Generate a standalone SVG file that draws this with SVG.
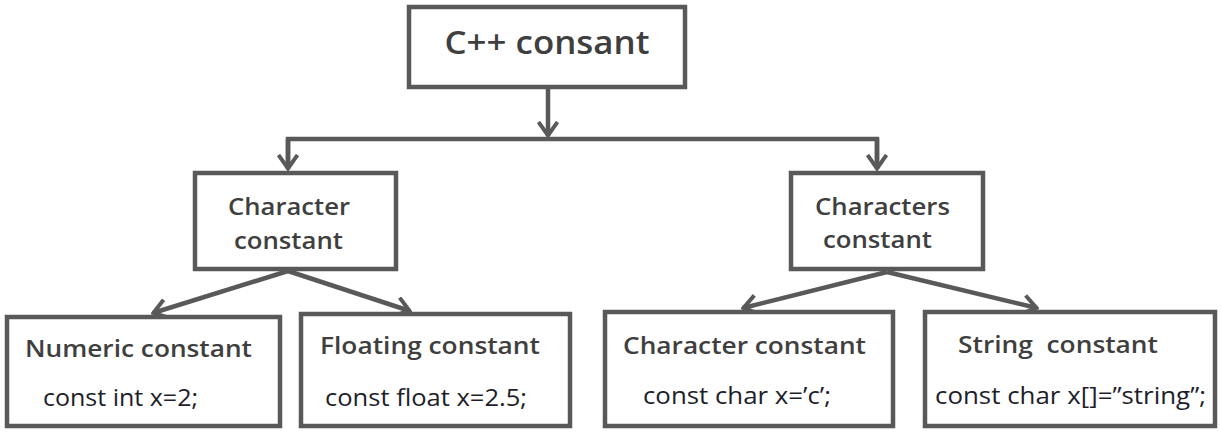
<svg xmlns="http://www.w3.org/2000/svg" width="1221" height="432" viewBox="0 0 1221 432">
<defs>
<marker id="arr" viewBox="0 0 17 22" refX="15" refY="11" markerWidth="17" markerHeight="22" markerUnits="userSpaceOnUse" orient="auto">
<path d="M1,1.5 L14.5,11 L1,20.5" fill="none" stroke="#595959" stroke-width="4" stroke-linejoin="miter"/>
</marker>
<style>
.box{fill:#ffffff;stroke:#595959;stroke-width:4.5}
.ln{fill:none;stroke:#595959;stroke-width:4.5}
.t{font-family:"Open Sans","Noto Sans",sans-serif;fill:#3f3f3f;font-weight:600}
.c{font-family:"Open Sans","Noto Sans",sans-serif;fill:#1e1e2a;font-weight:400}
</style>
</defs>
<rect width="1221" height="432" fill="#ffffff"/>
<g id="connectors">
<line class="ln" x1="548" y1="89" x2="548" y2="136" marker-end="url(#arr)"/>
<polyline class="ln" points="288,166 288,139 877,139 877,166"/>
<line class="ln" x1="288" y1="139" x2="288" y2="169" marker-end="url(#arr)"/>
<line class="ln" x1="877" y1="139" x2="877" y2="169" marker-end="url(#arr)"/>
<line class="ln" x1="288" y1="271" x2="153" y2="313" marker-end="url(#arr)"/>
<line class="ln" x1="288" y1="271" x2="410" y2="311" marker-end="url(#arr)"/>
<line class="ln" x1="887" y1="272" x2="743" y2="308" marker-end="url(#arr)"/>
<line class="ln" x1="887" y1="272" x2="1037" y2="308" marker-end="url(#arr)"/>
</g>
<g id="root">
<rect class="box" x="409" y="7" width="276" height="80"/>
<text class="t" x="547" y="54" font-size="32" text-anchor="middle" textLength="205" lengthAdjust="spacingAndGlyphs">C++ consant</text>
</g>
<g id="character-group">
<rect class="box" x="195" y="173" width="201" height="96"/>
<text class="t" x="289" y="215" font-size="24" text-anchor="middle" textLength="122" lengthAdjust="spacingAndGlyphs">Character</text>
<text class="t" x="288.5" y="249" font-size="24" text-anchor="middle" textLength="109" lengthAdjust="spacingAndGlyphs">constant</text>
</g>
<g id="characters-group">
<rect class="box" x="791" y="173" width="192" height="96"/>
<text class="t" x="882.5" y="215" font-size="24" text-anchor="middle" textLength="135" lengthAdjust="spacingAndGlyphs">Characters</text>
<text class="t" x="877.5" y="248" font-size="24" text-anchor="middle" textLength="109" lengthAdjust="spacingAndGlyphs">constant</text>
</g>
<g id="numeric">
<rect class="box" x="7" y="317" width="273" height="109"/>
<text class="t" x="25" y="357" font-size="24" textLength="227" lengthAdjust="spacingAndGlyphs">Numeric constant</text>
<text class="c" x="43" y="406" font-size="24" textLength="155" lengthAdjust="spacingAndGlyphs">const int x=2;</text>
</g>
<g id="floating">
<rect class="box" x="301" y="314" width="269" height="112"/>
<text class="t" x="320" y="354" font-size="24" textLength="220" lengthAdjust="spacingAndGlyphs">Floating constant</text>
<text class="c" x="325" y="406" font-size="24" textLength="202" lengthAdjust="spacingAndGlyphs">const float x=2.5;</text>
</g>
<g id="character-constant">
<rect class="box" x="605" y="312" width="288" height="114"/>
<text class="t" x="623" y="354" font-size="24" textLength="243" lengthAdjust="spacingAndGlyphs">Character constant</text>
<text class="c" x="643" y="404" font-size="24" textLength="188" lengthAdjust="spacingAndGlyphs">const char x=’c’;</text>
</g>
<g id="string-constant">
<rect class="box" x="925" y="312" width="290" height="114"/>
<text class="t" x="958" y="353" font-size="24" textLength="200" lengthAdjust="spacingAndGlyphs" xml:space="preserve">String  constant</text>
<text class="c" x="935" y="404" font-size="24" textLength="271" lengthAdjust="spacingAndGlyphs">const char x[]=”string”;</text>
</g>
</svg>
